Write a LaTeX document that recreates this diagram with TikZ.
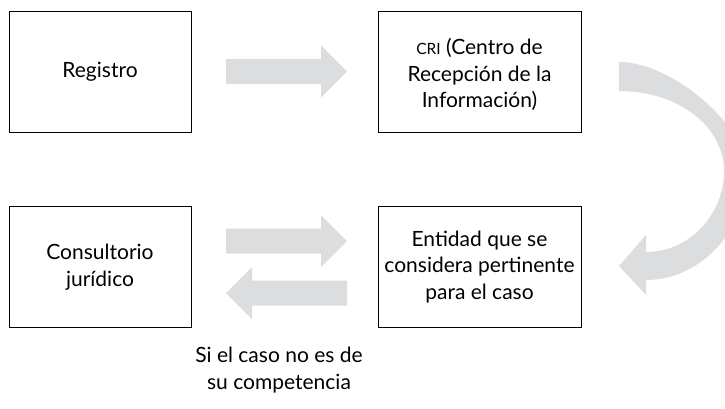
\documentclass[tikz,border=0pt]{standalone}
\usepackage{fontspec}
\setmainfont{Lato}
\usetikzlibrary{calc}
\definecolor{arrowgray}{HTML}{DCDDDF}
\begin{document}
\begin{tikzpicture}[x=1pt,y=-1pt,
  box/.style={draw=black, line width=1pt, inner sep=0pt, align=center,
    minimum height=121pt, font=\fontsize{21}{26.5}\selectfont},
  narrowbox/.style={box, minimum width=182pt},
  widebox/.style={box, minimum width=203pt},
  plain/.style={align=center, inner sep=0pt, font=\fontsize{21}{26.5}\selectfont},
  rarrow/.pic={\fill[arrowgray] (-60.5,-12.5) -- (34.5,-12.5) -- (34.5,-26) -- (60.5,0)
      -- (34.5,26) -- (34.5,12.5) -- (-60.5,12.5) -- cycle;}]
\useasboundingbox (0,0) rectangle (725,408);
\clip (0,0) rectangle (725,408);
\node[narrowbox] (reg) at (100,71.5) {Registro};
\node[widebox] (cri) at (479.5,71.5) {};
\node[align=center, inner sep=0pt, font=\fontsize{21}{26.5}\selectfont] (critext) at ([yshift=-3]cri.center)
  {{\fontsize{15.5}{26.5}\selectfont CRI} (Centro de\\Recepción de la\\Información)};
\node[narrowbox] (con) at (100,267) {Consultorio\\jurídico};
\node[widebox] (ent) at (479.5,267) {Entidad que se\\considera pertinente\\para el caso};
\node[plain] (note) at (279,370) {Si el caso no es de\\su competencia};
% straight block arrows
\pic at ($(reg.east)!0.5!(cri.west)+(2,0)$) {rarrow};
\pic at ($(con.east)!0.5!(ent.west)+(2,-26)$) {rarrow};
\pic[xscale=-1] at ($(con.east)!0.5!(ent.west)+(2,26)$) {rarrow};
% curved block arrow from CRI to Entidad
\fill[arrowgray] (619,62) .. controls (675,62) and (748,130) .. (748,171)
  .. controls (748,226) and (703,280) .. (646,280)
  -- (646,295) -- (619,266) -- (646,235) -- (646,252)
  .. controls (690,252) and (724,214) .. (724,171)
  .. controls (724,127) and (679,91) .. (619,91) -- cycle;
\end{tikzpicture}
\end{document}
